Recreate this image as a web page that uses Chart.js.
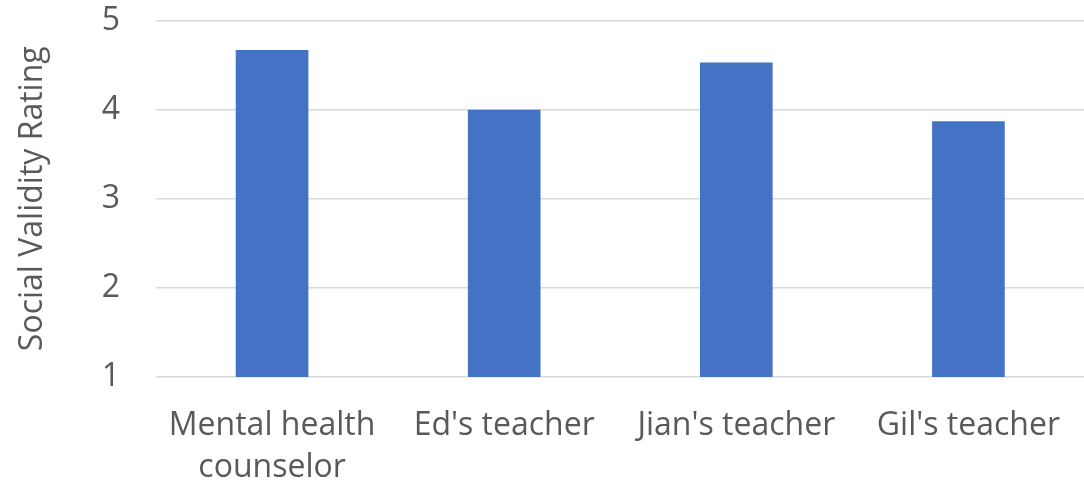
<!DOCTYPE html>
<html>
<head>
<meta charset="utf-8">
<script src="https://cdn.jsdelivr.net/npm/chart.js@4"></script>
<style>
  html, body { margin: 0; padding: 0; background: #fff; overflow: hidden; }
  #wrap { width: 1088px; height: 484px; }
</style>
</head>
<body>
<div id="wrap"><canvas id="chartRating" width="1088" height="484"></canvas></div>
<script>
// raters and their mean social validity score
var arrRater = [["Mental health", "counselor"], "Ed's teacher", "Jian's teacher", "Gil's teacher"];
var arrRating = [4.67, 4.0, 4.53, 3.87];
var arrTicks = [1, 2, 3, 4, 5];

var textColor = '#595959';
var fontFace = "'Open Sans', 'DejaVu Sans', sans-serif";

var ctxRating = document.getElementById('chartRating').getContext('2d');
var chartRating = new Chart(ctxRating, {
	type: 'bar',
	data: {
		labels: arrRater,
		datasets: [{
			label: 'Social Validity Rating',
			data: arrRating,
			backgroundColor: '#4472C4',
			borderWidth: 0,
			categoryPercentage: 1,
			barPercentage: 0.313
		}]
	},
	options: {
		responsive: false,
		animation: false,
		layout: { padding: 0 },
		plugins: {
			legend: { display: false },
			tooltip: { enabled: false }
		},
		scales: {
			x: {
				grid: { display: false, drawTicks: false },
				border: { display: false },
				ticks: {
					color: textColor,
					padding: 28,
					maxRotation: 0,
					autoSkip: false,
					font: { family: fontFace, size: 32, lineHeight: 1.3 }
				},
				afterFit: function (scale) { scale.height = 107; }
			},
			y: {
				min: arrTicks[0],
				max: arrTicks[arrTicks.length - 1],
				grid: { color: '#d9d9d9', lineWidth: 1.5, drawTicks: false },
				border: { display: false },
				ticks: {
					stepSize: 1,
					color: textColor,
					padding: 36,
					font: { family: fontFace, size: 32 }
				},
				title: {
					display: true,
					text: 'Social Validity Rating',
					color: textColor,
					padding: { top: 14, bottom: 0 },
					font: { family: fontFace, size: 32 }
				},
				afterFit: function (scale) {
					// keep the tick padding from pushing the top gridline down
					scale.width = 156;
					scale.paddingTop = 20.5;
					scale.paddingBottom = 0;
				}
			}
		}
	}
});
</script>
</body>
</html>
